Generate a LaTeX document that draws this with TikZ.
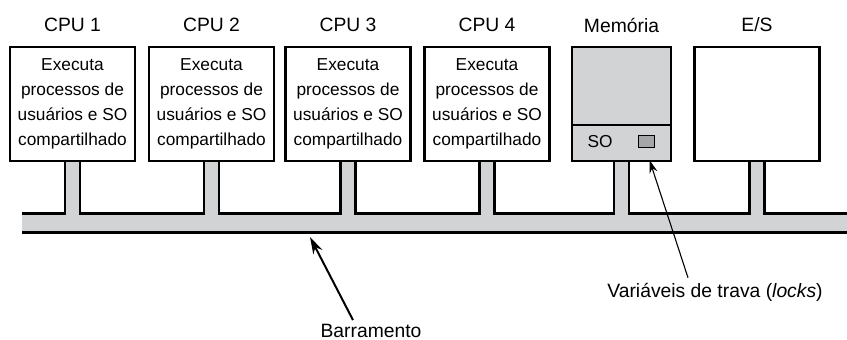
\documentclass[tikz,border=0pt]{standalone}
\usepackage{fontspec}
\setmainfont{Liberation Sans}
\usetikzlibrary{arrows.meta,calc,backgrounds}
\definecolor{busgray}{RGB}{210,211,213}
\definecolor{lockgray}{RGB}{165,166,168}
\begin{document}
\begin{tikzpicture}[x=1pt,y=-1pt,
  box/.style={draw=black, line width=2.1pt, fill=white, minimum width=125pt,
    minimum height=114pt, inner sep=0pt, align=center,
    font=\fontsize{17.3}{25}\selectfont},
  title/.style={font=\fontsize{19.3}{22}\selectfont, inner sep=0pt},
  busline/.style={draw=black, line width=2.1pt},
  arr/.style={-{Stealth[length=17pt,width=10pt]}, line width=2pt},
  thinarr/.style={-{Stealth[length=13pt,width=8pt]}, line width=1.1pt}]
\useasboundingbox (0,0) rectangle (847,340);

% boxes
\node[box] (c1) at (72.5,104) {Executa\\processos de\\usuários e SO\\compartilhado};
\node[box] (c2) at (211.5,104) {Executa\\processos de\\usuários e SO\\compartilhado};
\node[box] (c3) at (348,104) {Executa\\processos de\\usuários e SO\\compartilhado};
\node[box] (c4) at (487,104) {Executa\\processos de\\usuários e SO\\compartilhado};
\node[box, fill=busgray, minimum width=99pt] (mem) at (621.5,104) {};
\node[box] (es) at (757,104) {};

% titles
\node[title] (t1) at (72.5,25) {CPU 1};
\node[title] (t2) at (211.5,25) {CPU 2};
\node[title] (t3) at (348,25) {CPU 3};
\node[title] (t4) at (487,25) {CPU 4};
\node[title] (tm) at (621.5,25) {Memória};
\node[title] (te) at (757,25) {E/S};

% memory detail
\coordinate (divy) at (0,125);
\draw[line width=2.1pt] (mem.west |- divy) -- (mem.east |- divy);
\node[font=\fontsize{17.3}{20}\selectfont, inner sep=0pt] (so) at (600,142) {SO};
\node[draw=black, line width=1.5pt, fill=lockgray, minimum width=16pt,
  minimum height=12pt, inner sep=0pt] (lock) at (646.5,141.5) {};

% bus
\coordinate (busT) at (0,213.5);
\coordinate (busL) at (22,213.5);
\coordinate (busR) at (847,213.5);
\coordinate (busBL) at (22,232.5);
\coordinate (busBR) at (847,232.5);
\foreach \b [count=\i] in {c1,c2,c3,c4,mem,es}{
  \coordinate (sL\i) at ($(\b.south)+(-7.5,0)$);
  \coordinate (sR\i) at ($(\b.south)+(7.5,0)$);
}
\begin{scope}[on background layer]
  \fill[white] (0,0) rectangle (847,340);
  \fill[busgray] (busL) rectangle (busBR);
  \foreach \i in {1,...,6}{
    \fill[busgray] (sL\i) rectangle (sR\i |- busBR);
  }
  \draw[busline] (busL) -| (sL1)
    (sR1) -- (sR1 |- busT) -| (sL2)
    (sR2) -- (sR2 |- busT) -| (sL3)
    (sR3) -- (sR3 |- busT) -| (sL4)
    (sR4) -- (sR4 |- busT) -| (sL5)
    (sR5) -- (sR5 |- busT) -| (sL6)
    (sR6) -- (sR6 |- busT) -- (busR);
  \draw[busline] (busBL) -- (busBR);
\end{scope}

% labels and arrows
\node[title] (bar) at (371,331) {Barramento};
\coordinate (bartip) at (310,237);
\draw[arr] ($(bar.north)+(-18,-4)$) -- (bartip);

\node[title] (lab) at (715,292) {Variáveis de trava (\textit{locks})};
\coordinate (locktip) at (649.5,160);
\draw[thinarr] ($(lab.north)+(-27,-5)$) -- (locktip);
\end{tikzpicture}
\end{document}
